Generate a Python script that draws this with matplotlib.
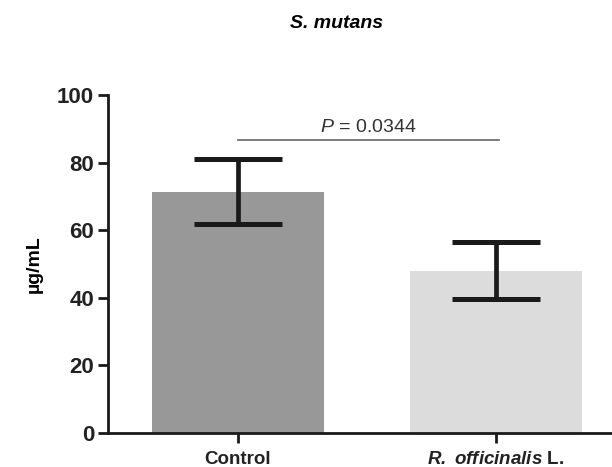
import matplotlib
matplotlib.use("Agg")
import matplotlib.pyplot as plt

# data
groups = ["Control", "R. officinalis L."]
means = [71.4, 48.0]
errors = [9.6, 8.4]
p_value = "0.0344"
p_level = 86.7
bar_colors = ["#989898", "#dcdcdc"]

plt.rcParams["font.family"] = ["Liberation Sans", "DejaVu Sans"]
plt.rcParams["mathtext.fontset"] = "custom"
plt.rcParams["mathtext.rm"] = "Liberation Sans"
plt.rcParams["mathtext.it"] = "Liberation Sans:italic"
plt.rcParams["mathtext.bf"] = "Liberation Sans:bold"
plt.rcParams["mathtext.bfit"] = "Liberation Sans:bold:italic"

fig = plt.figure(figsize=(6.12, 4.67), dpi=100)
ax = fig.add_axes([0.1765, 0.0728, 0.83, 0.7238])

x = [0, 1]
ax.bar(x, means, width=0.67, color=bar_colors, zorder=1)
ax.errorbar(x, means, yerr=errors, fmt="none", ecolor="#1a1a1a",
            elinewidth=3.4, capsize=32, capthick=3.6, zorder=2)

# significance bar
ax.plot([0, 1.01], [p_level, p_level], color="#666666", lw=1.2)
ax.text(0.505, p_level + 1.3, "$\\mathit{P}$ = " + p_value, ha="center",
        va="bottom", fontsize=14, color="#333333")

ax.set_xlim(-0.504, 1.465)
ax.set_ylim(0, 100)
ax.set_yticks([0, 20, 40, 60, 80, 100])
ax.set_xticks(x)
ax.set_xticklabels(["Control", "$\\mathbfit{R.\\ officinalis}$ L."])
for lab in ax.get_xticklabels():
    lab.set_fontweight("bold")
    lab.set_fontsize(13.5)
for lab in ax.get_yticklabels():
    lab.set_fontweight("bold")
    lab.set_fontsize(16)

ax.spines["top"].set_visible(False)
ax.spines["right"].set_visible(False)
for side in ["left", "bottom"]:
    ax.spines[side].set_linewidth(2)
    ax.spines[side].set_color("#1a1a1a")
ax.tick_params(axis="both", length=7, width=2, color="#1a1a1a",
               labelcolor="#222222")
ax.tick_params(axis="x", pad=6)
ax.tick_params(axis="y", pad=3)

ax.set_ylabel("\u00b5g/mL", fontsize=14, fontweight="bold", labelpad=10)
fig.text(0.55, 0.95, "S. mutans", ha="center", va="center",
         fontsize=14, fontweight="bold", fontstyle="italic")

fig.savefig("out.png", dpi=100)
